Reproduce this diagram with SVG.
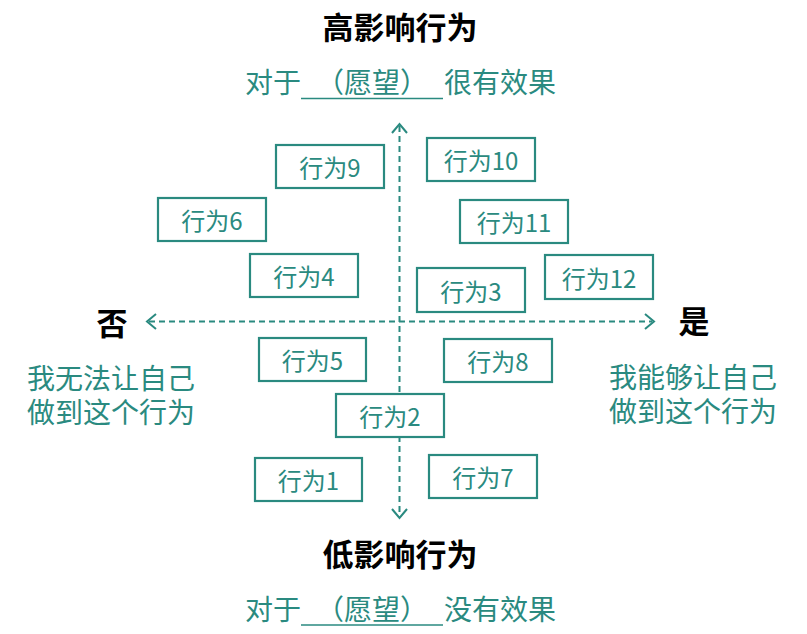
<svg xmlns="http://www.w3.org/2000/svg" width="807" height="634" viewBox="0 0 807 634">
<style>
.box rect{fill:#fff;stroke:#2a8a80;stroke-width:2.2}
.box text{font-family:"Noto Sans CJK SC","Noto Sans",sans-serif;font-size:24px;fill:#2a8a80;text-anchor:middle;dominant-baseline:central}
.h{font-family:"Noto Sans CJK SC",sans-serif;font-size:31px;font-weight:bold;fill:#000}
.t{font-family:"Noto Sans CJK SC",sans-serif;font-size:28px;fill:#2a8a80}
.axis{stroke:#2a8a80;stroke-width:2;stroke-dasharray:6 4;fill:none}
.head{stroke:#2a8a80;stroke-width:2;fill:none}
</style>
<rect width="807" height="634" fill="#fff"/>
<g id="connectors">
<line class="axis" x1="399.5" y1="126" x2="399.5" y2="516"/>
<line class="axis" x1="149" y1="321.5" x2="652" y2="321.5"/>
<polyline class="head" points="392,133 399.5,124 407,133"/>
<polyline class="head" points="392,509 399.5,518 407,509"/>
<polyline class="head" points="156,314 147,321.5 156,329"/>
<polyline class="head" points="645,314 654,321.5 645,329"/>
</g>
<g id="top-title">
<text class="h" x="400" y="39" text-anchor="middle">高影响行为</text>
<text class="t" x="245" y="93">对于</text>
<text class="t" x="372" y="93" text-anchor="middle">（愿望）</text>
<line x1="301" y1="98.5" x2="443" y2="98.5" stroke="#2a8a80" stroke-width="1.5"/>
<text class="t" x="444" y="93">很有效果</text>
</g>
<g id="bottom-title">
<text class="h" x="400" y="566" text-anchor="middle">低影响行为</text>
<text class="t" x="245" y="620">对于</text>
<text class="t" x="372" y="620" text-anchor="middle">（愿望）</text>
<line x1="301" y1="625" x2="443" y2="625" stroke="#2a8a80" stroke-width="1.5"/>
<text class="t" x="444" y="620">没有效果</text>
</g>
<g id="no-label">
<text class="h" x="112" y="335" text-anchor="middle">否</text>
<text class="t" x="27" y="389"><tspan x="27" y="389">我无法让自己</tspan><tspan x="27" y="423">做到这个行为</tspan></text>
</g>
<g id="yes-label">
<text class="h" x="694" y="333" text-anchor="middle">是</text>
<text class="t" x="609" y="388"><tspan x="609" y="388">我能够让自己</tspan><tspan x="609" y="422">做到这个行为</tspan></text>
</g>
<g id="b9" class="box"><rect x="276" y="145" width="108" height="43"/><text x="330" y="166.5">行为9</text></g>
<g id="b10" class="box"><rect x="427" y="138" width="108" height="43"/><text x="481" y="159.5">行为10</text></g>
<g id="b6" class="box"><rect x="158" y="198" width="108" height="43"/><text x="212" y="219.5">行为6</text></g>
<g id="b11" class="box"><rect x="460" y="200" width="108" height="43"/><text x="514" y="221.5">行为11</text></g>
<g id="b4" class="box"><rect x="250" y="254" width="108" height="43"/><text x="304" y="275.5">行为4</text></g>
<g id="b12" class="box"><rect x="545" y="255" width="108" height="44"/><text x="599" y="277">行为12</text></g>
<g id="b3" class="box"><rect x="417" y="268" width="108" height="44"/><text x="471" y="290">行为3</text></g>
<g id="b5" class="box"><rect x="259" y="338" width="107" height="43"/><text x="312.5" y="359.5">行为5</text></g>
<g id="b8" class="box"><rect x="444" y="339" width="108" height="43"/><text x="498" y="360.5">行为8</text></g>
<g id="b2" class="box"><rect x="336" y="394" width="108" height="43"/><text x="390" y="415.5">行为2</text></g>
<g id="b1" class="box"><rect x="255" y="458" width="107" height="43"/><text x="308.5" y="479.5">行为1</text></g>
<g id="b7" class="box"><rect x="429" y="455" width="108" height="43"/><text x="483" y="476.5">行为7</text></g>
</svg>
